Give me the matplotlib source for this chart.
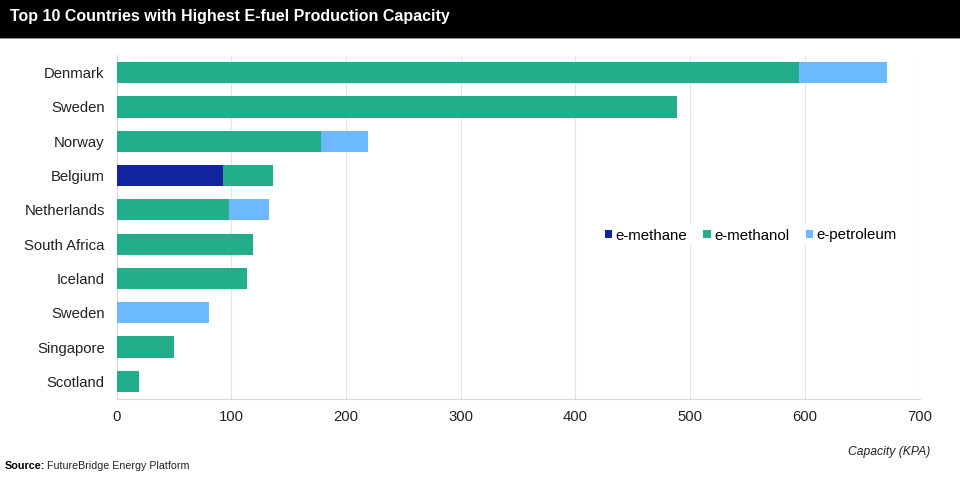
import numpy as np
import matplotlib.pyplot as plt

plt.rcParams['font.family'] = ['Liberation Sans', 'DejaVu Sans']

# 数据
countries = ['Denmark', 'Sweden', 'Norway', 'Belgium', 'Netherlands',
             'South Africa', 'Iceland', 'Sweden', 'Singapore', 'Scotland']
e_methane = np.array([0, 0, 0, 93, 0, 0, 0, 0, 0, 0])
e_methanol = np.array([595, 489, 178, 43, 98, 119, 114, 0, 50, 20])
e_petroleum = np.array([77, 0, 41, 0, 35, 0, 0, 81, 0, 0])
x_ticks = [0, 100, 200, 300, 400, 500, 600, 700]

fig = plt.figure(figsize=(9.6, 4.98), dpi=100)

# 顶部黑色标题栏
fig.patches.append(plt.Rectangle((0, 1 - 39 / 498), 1, 1 / 498, transform=fig.transFigure,
                                 facecolor='#8A8A8A', edgecolor='none'))
fig.patches.append(plt.Rectangle((0, 1 - 38 / 498), 1, 38 / 498, transform=fig.transFigure,
                                 facecolor='black', edgecolor='none'))
fig.text(10 / 960, 1 - 16.5 / 498, 'Top 10 Countries with Highest E-fuel Production Capacity',
         color='white', fontsize=11.5, fontweight='bold', va='center', ha='left')

ax = fig.add_axes([116.5 / 960, 1 - 398.5 / 498, (919.5 - 116.5) / 960, (398.5 - 55.5) / 498])
y = np.arange(len(countries))
h = 0.62

ax.barh(y, e_methane, height=h, color='#12239E', label='e-methane', zorder=3)
ax.barh(y, e_methanol, height=h, left=e_methane, color='#22AE8B', label='e-methanol', zorder=3)
ax.barh(y, e_petroleum, height=h, left=e_methane + e_methanol, color='#6DB9FF',
        label='e-petroleum', zorder=3)

ax.set_xlim(0, 700)
ax.set_ylim(len(countries) - 0.5, -0.5)
ax.set_yticks(y, countries)
ax.set_xticks(x_ticks)
ax.tick_params(axis='both', length=0, labelsize=10.7, colors='#222222')
ax.tick_params(axis='y', pad=8.5)
ax.tick_params(axis='x', pad=8)
ax.grid(axis='x', color='#E3E3E3', linewidth=0.8, zorder=0)

for s in ['top', 'right']:
    ax.spines[s].set_visible(False)
ax.spines['left'].set_color('#D9D9D9')
ax.spines['bottom'].set_color('#D9D9D9')

# 图例
leg = ax.legend(loc='center', bbox_to_anchor=(750.5 / 960, 1 - 235.5 / 498),
                bbox_transform=fig.transFigure, ncol=3, frameon=True, framealpha=1,
                edgecolor='none', fontsize=10.8, handlelength=0.5, handleheight=0.5,
                handletextpad=0.2, columnspacing=1.1, borderpad=0.2)
leg.set_zorder(5)

fig.text(930 / 960, 1 - 452 / 498, 'Capacity (KPA)', fontsize=8.7, style='italic',
         ha='right', va='center', color='#222222')
fig.text(5 / 960, 1 - 465.5 / 498, 'Source:', fontsize=7.8, fontweight='bold',
         ha='left', va='center', color='black')
fig.text(47 / 960, 1 - 465.5 / 498, 'FutureBridge Energy Platform', fontsize=7.7,
         ha='left', va='center', color='#222222')

plt.savefig('out.png', dpi=100)
